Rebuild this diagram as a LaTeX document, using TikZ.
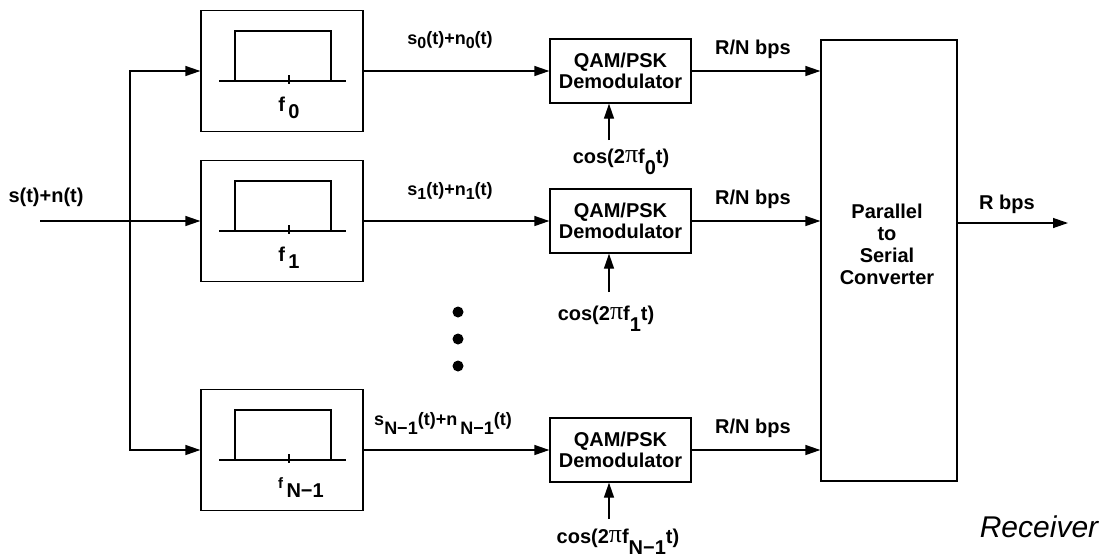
\documentclass[tikz,border=0pt]{standalone}
\usepackage{fontspec}
\setmainfont{Liberation Sans}
\newfontfamily\pifont{Liberation Serif}
\usetikzlibrary{arrows.meta,calc}
\newcommand{\dn}[2][8pt]{\raisebox{-#1}{#2}}
\newcommand{\bigpi}{{\pifont\mdseries\fontsize{26}{26}\selectfont\raisebox{1pt}{π}}}
\begin{document}
\begin{tikzpicture}[x=1pt,y=-1pt,line width=1.3pt,
  arr/.style={-{Triangle[length=15pt,width=10pt]}},
  lbl/.style={inner sep=0pt,font=\fontsize{20}{22}\selectfont\bfseries},
  slbl/.style={inner sep=0pt,font=\fontsize{18}{20}\selectfont\bfseries},
  fbox/.style={draw,minimum width=162pt,minimum height=121pt,inner sep=0pt},
  dbox/.style={draw,minimum width=141pt,minimum height=64pt,inner sep=0pt,align=center,font=\fontsize{20}{21}\selectfont\bfseries},
  psbox/.style={draw,minimum width=136pt,minimum height=441pt,inner sep=0pt},
  dot/.style={circle,fill,inner sep=0pt,minimum size=11pt}]
\useasboundingbox (0,0) rectangle (1106,558);

% filter boxes
\node[fbox] (f0) at (282,71) {};
\node[fbox] (f1) at (282,221) {};
\node[fbox] (fN) at (282,450) {};
\foreach \B in {f0,f1,fN}{
  \draw ($(\B.center)+(-47,-40)$) rectangle ($(\B.center)+(49,10)$);
  \draw ($(\B.center)+(-63,10)$) -- ($(\B.center)+(64,10)$);
  \draw ($(\B.center)+(7,4)$) -- ($(\B.center)+(7,13)$);
}
\node[lbl,anchor=base] (lf0) at ($(f0.center)+(7,40)$) {f\,\dn[7pt]{0}};
\node[lbl,anchor=base] (lf1) at ($(f1.center)+(7,40)$) {f\,\dn[7pt]{1}};
\node[lbl,anchor=base] (lfN) at ($(fN.center)+(19,38)$) {{\fontsize{15}{15}\selectfont f}\,\dn[9pt]{N−1}};

% input and bus
\coordinate (in) at (40,221);
\coordinate (j) at (130,221);
\node[lbl,anchor=base] (lin) at (46,202) {s(t)+n(t)};
\draw (in) -- (j);
\draw[arr] (j) -- (f1.west);
\draw[arr] (j) |- (f0.west);
\draw[arr] (j) |- (fN.west);

% demodulators
\node[dbox] (d0) at (620.5,71) {QAM/PSK\\Demodulator};
\node[dbox] (d1) at (620.5,221) {QAM/PSK\\Demodulator};
\node[dbox] (dN) at (620.5,450) {QAM/PSK\\Demodulator};
\draw[arr] (f0.east) -- (d0.west);
\draw[arr] (f1.east) -- (d1.west);
\draw[arr] (fN.east) -- (dN.west);
\node[slbl,anchor=base] (s0) at (450,44) {s\dn[4pt]{\fontsize{16}{16}\selectfont 0}(t)+n\dn[4pt]{\fontsize{16}{16}\selectfont 0}(t)};
\node[slbl,anchor=base] (s1) at (450,195) {s\dn[4pt]{\fontsize{16}{16}\selectfont 1}(t)+n\dn[4pt]{\fontsize{16}{16}\selectfont 1}(t)};
\node[slbl,anchor=base] (sN) at (443,425) {s\dn[9pt]{N−1}(t)+n\,\dn[9pt]{N−1}(t)};

% carriers
\coordinate (c0) at (609,140);
\coordinate (c1) at (609,292);
\coordinate (cN) at (609,519);
\draw[arr] (c0) -- (c0 |- d0.south);
\draw[arr] (c1) -- (c1 |- d1.south);
\draw[arr] (cN) -- (cN |- dN.south);
\node[lbl,anchor=base] (lc0) at (621,163) {cos(2\bigpi f\dn[11pt]{0}t)};
\node[lbl,anchor=base] (lc1) at (606,320) {cos(2\bigpi f\dn[11pt]{1}t)};
\node[lbl,anchor=base] (lcN) at (618,543) {cos(2\bigpi f\dn[11pt]{N−1}t)};

% dots
\node[dot] (dt1) at (458,312) {};
\node[dot] (dt2) at (458,339) {};
\node[dot] (dt3) at (458,366) {};

% parallel to serial
\node[psbox] (ps) at (889,260.5) {};
\node[lbl,align=center] (pst) at (887,244) {Parallel\\to\\Serial\\Converter};
\draw[arr] (d0.east) -- (d0.east -| ps.west);
\draw[arr] (d1.east) -- (d1.east -| ps.west);
\draw[arr] (dN.east) -- (dN.east -| ps.west);
\node[lbl,anchor=base] (r0) at (753,54) {R/N bps};
\node[lbl,anchor=base] (r1) at (753,204) {R/N bps};
\node[lbl,anchor=base] (rN) at (753,433) {R/N bps};
\coordinate (out) at (1068,223);
\draw[arr] (ps.east |- out) -- (out);
\node[lbl,anchor=base] (rout) at (1007,209) {R bps};

\node[inner sep=0pt,anchor=base,font=\fontsize{30}{30}\selectfont\itshape] (rcv) at (1039,537) {Receiver};
\end{tikzpicture}
\end{document}
